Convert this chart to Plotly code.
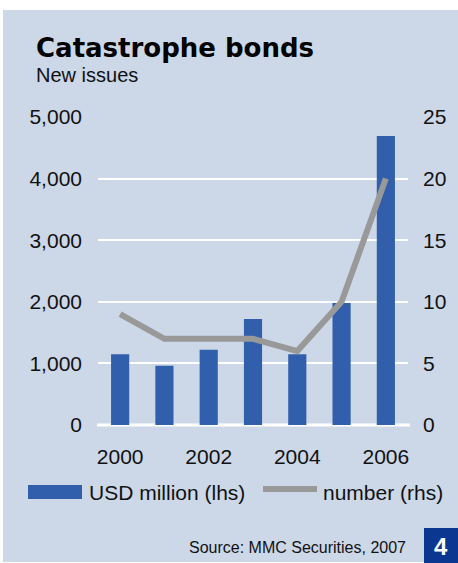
import plotly.graph_objects as go

years = [2000, 2001, 2002, 2003, 2004, 2005, 2006]
usd_million = [1150, 960, 1220, 1720, 1150, 1980, 4690]
number_issues = [9, 7, 7, 7, 6, 10, 20]
x_ticks = [2000, 2002, 2004, 2006]
left_ticks = [0, 1000, 2000, 3000, 4000, 5000]
left_tick_text = ["0", "1,000", "2,000", "3,000", "4,000", "5,000"]
right_ticks = [0, 5, 10, 15, 20, 25]

W, H = 458, 563
L, R, T, B = 98, 408, 117, 425
PW, PH = R - L, B - T

def px(x):
    return (x - L) / PW

def py(y):
    return (B - y) / PH

BG = "#CCD7E8"
BAR = "#315FAB"
LINE = "#999999"
FONT = "Liberation Sans, Arial, sans-serif"

fig = go.Figure()
fig.add_trace(go.Bar(x=years, y=usd_million, marker=dict(color=BAR, line=dict(width=0)),
                     name="USD million (lhs)", showlegend=False))
fig.add_trace(go.Scatter(x=years, y=number_issues, mode="lines", yaxis="y2",
                         line=dict(color=LINE, width=6), name="number (rhs)", showlegend=False))

shapes = [
    dict(type="rect", xref="paper", yref="paper", x0=px(3), x1=px(458), y0=py(10), y1=py(562),
         fillcolor=BG, line=dict(width=0), layer="below"),
    dict(type="line", xref="paper", yref="paper", x0=px(97), x1=px(410), y0=py(425), y1=py(425),
         line=dict(color="white", width=3), layer="below"),
    # legend swatches
    dict(type="rect", xref="paper", yref="paper", x0=px(28), x1=px(82), y0=py(485), y1=py(499),
         fillcolor=BAR, line=dict(width=0)),
    dict(type="line", xref="paper", yref="paper", x0=px(263), x1=px(317), y0=py(489), y1=py(489),
         line=dict(color=LINE, width=6)),
    # page number box
    dict(type="rect", xref="paper", yref="paper", x0=px(424), x1=px(458), y0=py(528), y1=py(563),
         fillcolor="#0B3791", line=dict(width=0)),
]

annotations = [
    dict(text="<b>Catastrophe bonds</b>", x=px(34), y=py(48), xref="paper", yref="paper",
         xanchor="left", yanchor="middle", showarrow=False,
         font=dict(family="DejaVu Sans, sans-serif", size=26, color="black")),
    dict(text="New issues", x=px(34), y=py(75), xref="paper", yref="paper",
         xanchor="left", yanchor="middle", showarrow=False,
         font=dict(family=FONT, size=20, color="#111111")),
    dict(text="USD million (lhs)", x=px(87), y=py(492), xref="paper", yref="paper",
         xanchor="left", yanchor="middle", showarrow=False,
         font=dict(family=FONT, size=21, color="#111111")),
    dict(text="number (rhs)", x=px(321), y=py(492), xref="paper", yref="paper",
         xanchor="left", yanchor="middle", showarrow=False,
         font=dict(family=FONT, size=21, color="#111111")),
    dict(text="Source: MMC Securities, 2007", x=px(408), y=py(547), xref="paper", yref="paper",
         xanchor="right", yanchor="middle", showarrow=False,
         font=dict(family=FONT, size=16, color="#111111")),
    dict(text="<b>4</b>", x=px(441), y=py(546), xref="paper", yref="paper",
         xanchor="center", yanchor="middle", showarrow=False,
         font=dict(family=FONT, size=24, color="white")),
]

fig.update_layout(
    width=W, height=H,
    margin=dict(l=L, r=W - R, t=T, b=H - B, pad=0),
    paper_bgcolor="white", plot_bgcolor="rgba(0,0,0,0)",
    bargap=0.59,
    shapes=shapes, annotations=annotations,
    font=dict(family=FONT, size=21, color="#111111"),
    xaxis=dict(range=[1999.5, 2006.5], tickvals=x_ticks, showgrid=False, zeroline=False,
               showline=False, ticks="", ticklabelstandoff=17,
               tickfont=dict(family=FONT, size=21, color="#111111")),
    yaxis=dict(range=[0, 5000], tickvals=left_ticks, ticktext=left_tick_text, showgrid=True,
               gridcolor="white", gridwidth=2, zeroline=False, showline=False, ticks="",
               ticklabelstandoff=15, tickfont=dict(family=FONT, size=21, color="#111111")),
    yaxis2=dict(range=[0, 25], tickvals=right_ticks, overlaying="y", side="right",
                showgrid=False, zeroline=False, showline=False, ticks="",
                ticklabelstandoff=14, tickfont=dict(family=FONT, size=21, color="#111111")),
    showlegend=False,
)

fig.write_html("out.html", config={"displayModeBar": False},
               post_script="document.body.style.margin='0';document.body.style.overflow='hidden';")
